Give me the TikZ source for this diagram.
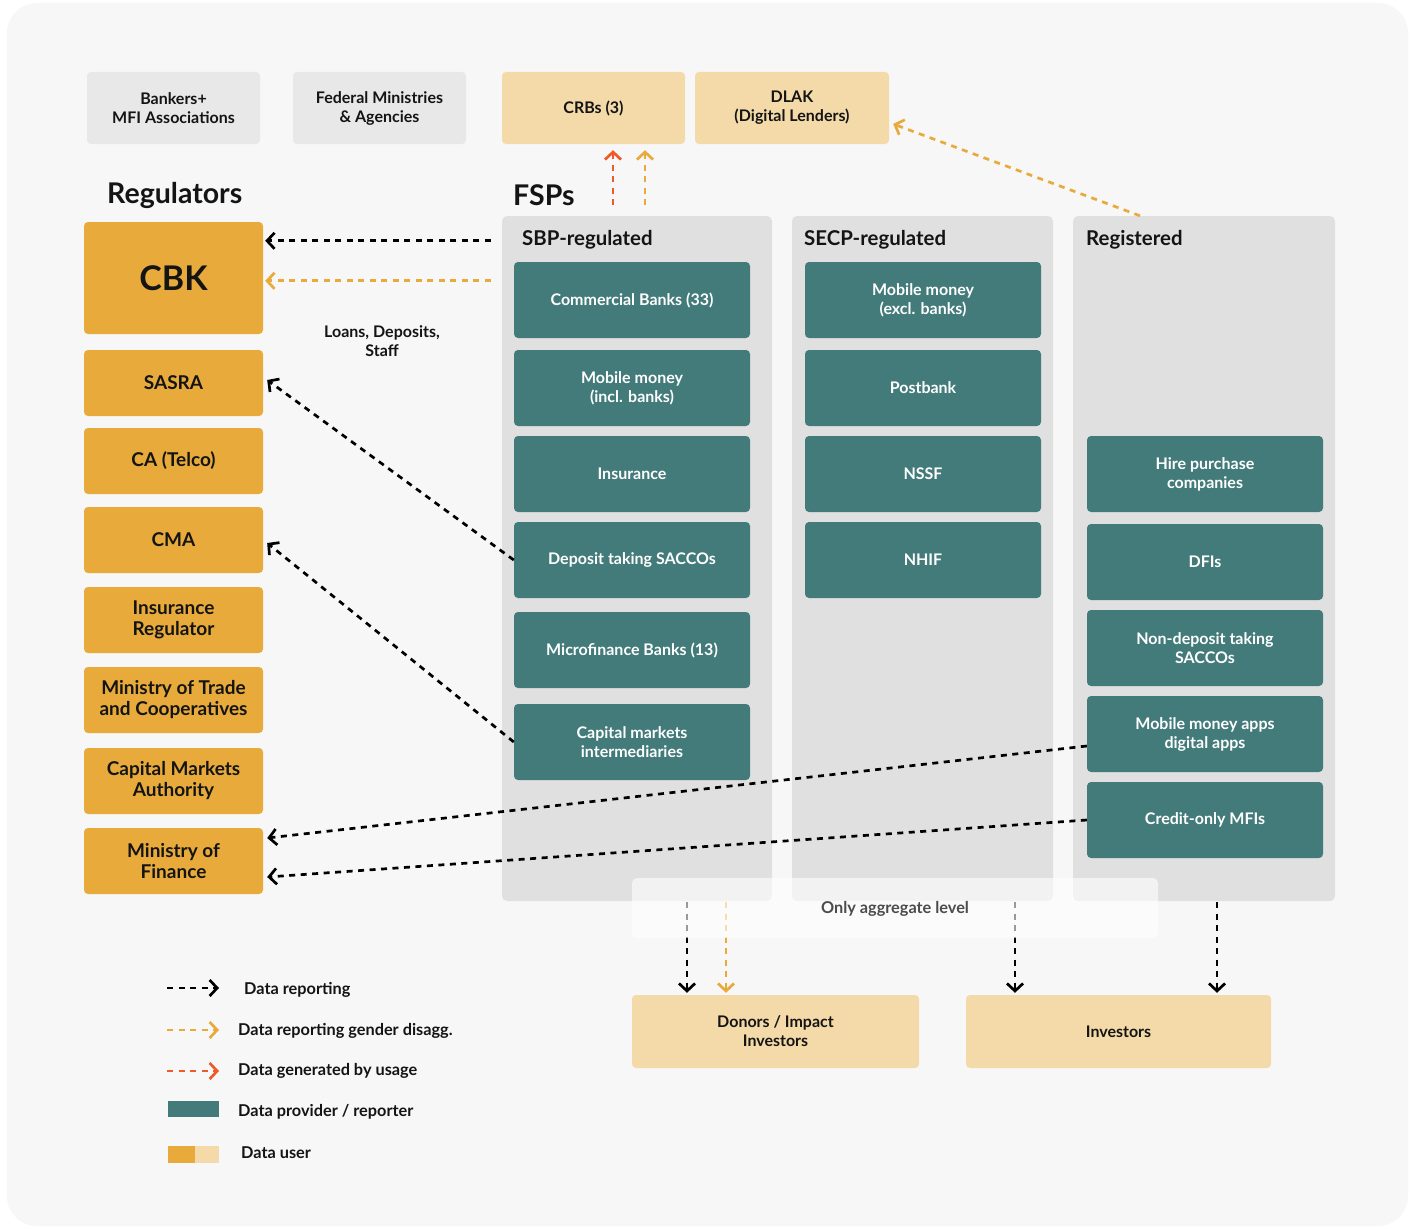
\documentclass[tikz,border=0pt]{standalone}
\usepackage{fontspec}
\setmainfont{Lato}
\usetikzlibrary{arrows.meta}
\definecolor{cBg}{HTML}{F7F7F7}
\definecolor{cLight}{HTML}{E8E8E8}
\definecolor{cPanel}{HTML}{E0E0E0}
\definecolor{cTeal}{HTML}{437B7B}
\definecolor{cGold}{HTML}{E8AB3B}
\definecolor{cTan}{HTML}{F3DAA8}
\definecolor{cRed}{HTML}{EE5A2A}
\definecolor{cInk}{HTML}{141414}
\tikzset{
  boxbase/.style={rounded corners=4pt, inner sep=0pt, align=center, text=cInk,
    font=\fontsize{16}{19}\selectfont\bfseries},
  graybox/.style={boxbase, fill=cLight, minimum width=173pt, minimum height=72pt},
  tanbox/.style={boxbase, fill=cTan, minimum height=72pt},
  regbox/.style={boxbase, fill=cGold, minimum width=179pt, minimum height=66pt,
    font=\fontsize{19}{21}\selectfont\bfseries},
  panel/.style={rounded corners=5pt, fill=cPanel, inner sep=0pt, minimum height=685pt},
  tealbox/.style={boxbase, fill=cTeal, text=white, minimum width=236pt, minimum height=76pt},
  paneltitle/.style={anchor=west, inner sep=0pt, text=cInk, font=\fontsize{20.4}{23}\selectfont\bfseries},
  bigtitle/.style={anchor=west, inner sep=0pt, text=cInk, font=\fontsize{28.5}{31}\selectfont\bfseries},
  legtext/.style={anchor=west, inner sep=0pt, text=cInk, font=\fontsize{16.3}{19}\selectfont\bfseries},
  flow/.style={line width=2.7pt, dash pattern=on 6pt off 5.5pt,
    -{Straight Barb[length=7.5pt,width=16pt]}},
  rep/.style={flow, draw=black},
  gen/.style={flow, draw=cGold},
  use/.style={flow, draw=cRed},
}
\begin{document}
\begin{tikzpicture}[x=1pt,y=-1pt]
\useasboundingbox (0,0) rectangle (1415,1228);
\fill[white] (0,0) rectangle (1415,1228);
\fill[cBg, rounded corners=30pt] (7,3) rectangle (1408,1226);

% top row
\node[graybox] (bankers) at (173.5,108) {Bankers+\\MFI Associations};
\node[graybox] (federal) at (379.5,108) {Federal Ministries\\\& Agencies};
\node[tanbox, minimum width=183pt] (crb) at (593.5,108) {CRBs (3)};
\node[tanbox, minimum width=194pt] (dlak) at (792,108) {DLAK\\(Digital Lenders)};

% titles
\node[bigtitle] (regtitle) at (107,195) {Regulators};
\node[bigtitle] (fsptitle) at (513,195) {FSPs};

% regulators
\node[regbox, minimum height=112pt, font=\fontsize{34}{38}\selectfont\bfseries] (cbk) at (173.5,278) {CBK};
\node[regbox] (sasra) at (173.5,383) {SASRA};
\node[regbox] (ca) at (173.5,461) {CA (Telco)};
\node[regbox] (cma) at (173.5,540) {CMA};
\node[regbox] (insreg) at (173.5,620) {Insurance\\Regulator};
\node[regbox] (mot) at (173.5,700) {Ministry of Trade\\and Cooperatives};
\node[regbox] (cmauth) at (173.5,781) {Capital Markets\\Authority};
\node[regbox] (mof) at (173.5,861) {Ministry of\\Finance};

% panels
\node[panel, minimum width=270pt] (sbp) at (637,558.5) {};
\node[panel, minimum width=261pt] (secp) at (922.5,558.5) {};
\node[panel, minimum width=262pt] (regd) at (1204,558.5) {};
\node[paneltitle] (sbpt) at (522,240) {SBP-regulated};
\node[paneltitle] (secpt) at (804,240) {SECP-regulated};
\node[paneltitle] (regt) at (1086,240) {Registered};

% SBP column
\node[tealbox] (comb) at (632,300) {Commercial Banks (33)};
\node[tealbox] (mmi) at (632,388) {Mobile money\\(incl. banks)};
\node[tealbox] (insu) at (632,474) {Insurance};
\node[tealbox] (dts) at (632,560) {Deposit taking SACCOs};
\node[tealbox] (mfb) at (632,650) {Microfinance Banks (13)};
\node[tealbox] (cmi) at (632,742) {Capital markets\\intermediaries};

% SECP column
\node[tealbox] (mme) at (923,300) {Mobile money\\(excl. banks)};
\node[tealbox] (post) at (923,388) {Postbank};
\node[tealbox] (nssf) at (923,474) {NSSF};
\node[tealbox] (nhif) at (923,560) {NHIF};

% Registered column
\node[tealbox] (hire) at (1205,474) {Hire purchase\\companies};
\node[tealbox] (dfi) at (1205,562) {DFIs};
\node[tealbox] (ndts) at (1205,648) {Non-deposit taking\\SACCOs};
\node[tealbox] (mma) at (1205,734) {Mobile money apps\\digital apps};
\node[tealbox] (com) at (1205,820) {Credit-only MFIs};

% bottom boxes
\node[tanbox, minimum width=287pt, minimum height=73pt] (donors) at (775.5,1031.5) {Donors / Impact\\Investors};
\node[tanbox, minimum width=305pt, minimum height=73pt] (inv) at (1118.5,1031.5) {Investors};

% label
\node[boxbase] (loans) at (382,341) {Loans, Deposits,\\Staff};

% arrows to CBK
\coordinate (c1) at ([shift={(-11,25)}]sbp.north west);
\coordinate (c2) at ([shift={(-11,65)}]sbp.north west);
\draw[rep] (c1) -- ([xshift=2pt]cbk.east |- c1);
\draw[gen] (c2) -- ([xshift=2pt]cbk.east |- c2);

% diagonal arrows
\draw[rep] (dts.west) -- ([shift={(4,-3)}]sasra.east);
\draw[rep] (cmi.west) -- ([shift={(4,3)}]cma.east);
\draw[rep] ([yshift=-12pt]mma.west) -- ([shift={(4,-23)}]mof.east);
\draw[rep] (com.west) -- ([shift={(4,16)}]mof.east);

% arrows to CRBs / DLAK
\coordinate (u1) at (613,205);
\coordinate (u2) at (645,205);
\draw[use] (u1) -- ([yshift=-6pt]crb.south -| u1);
\draw[gen] (u2) -- ([yshift=-6pt]crb.south -| u2);
\draw[gen] ([xshift=-64pt]regd.north) -- ([shift={(4,16)}]dlak.east);

% bottom arrows
\coordinate (d1) at (687,902);
\coordinate (d2) at (726,902);
\coordinate (d3) at (1015,902);
\coordinate (d4) at (1217,902);
\draw[rep] (d1) -- ([yshift=2pt]donors.north -| d1);
\draw[gen] (d2) -- ([yshift=2pt]donors.north -| d2);
\draw[rep] (d3) -- ([yshift=2pt]inv.north -| d3);
\draw[rep] (d4) -- ([yshift=2pt]inv.north -| d4);

% aggregate overlay
\node[rounded corners=5pt, fill=white, fill opacity=0.6, minimum width=526pt, minimum height=60pt, inner sep=0pt] (agg) at (895,908) {};
\node[inner sep=0pt, text=black!70, font=\fontsize{16.3}{19}\selectfont\bfseries] (aggt) at (895,909) {Only aggregate level};

% legend
\coordinate (l1a) at (167,988); \coordinate (l1b) at (219,988);
\coordinate (l2a) at (167,1030); \coordinate (l2b) at (219,1030);
\coordinate (l3a) at (167,1071); \coordinate (l3b) at (219,1071);
\draw[rep] (l1a) -- (l1b);
\draw[gen] (l2a) -- (l2b);
\draw[use] (l3a) -- (l3b);
\node[legtext] (lt1) at (244,990) {Data reporting};
\node[legtext] (lt2) at (238,1031) {Data reporting gender disagg.};
\node[legtext] (lt3) at (238,1071) {Data generated by usage};
\fill[cTeal] (168,1101) rectangle (219,1117);
\node[legtext] (lt4) at (238,1112) {Data provider / reporter};
\fill[cGold] (168,1146) rectangle (195,1163);
\fill[cTan] (195,1146) rectangle (219,1163);
\node[legtext] (lt5) at (241,1153) {Data user};
\end{tikzpicture}
\end{document}
